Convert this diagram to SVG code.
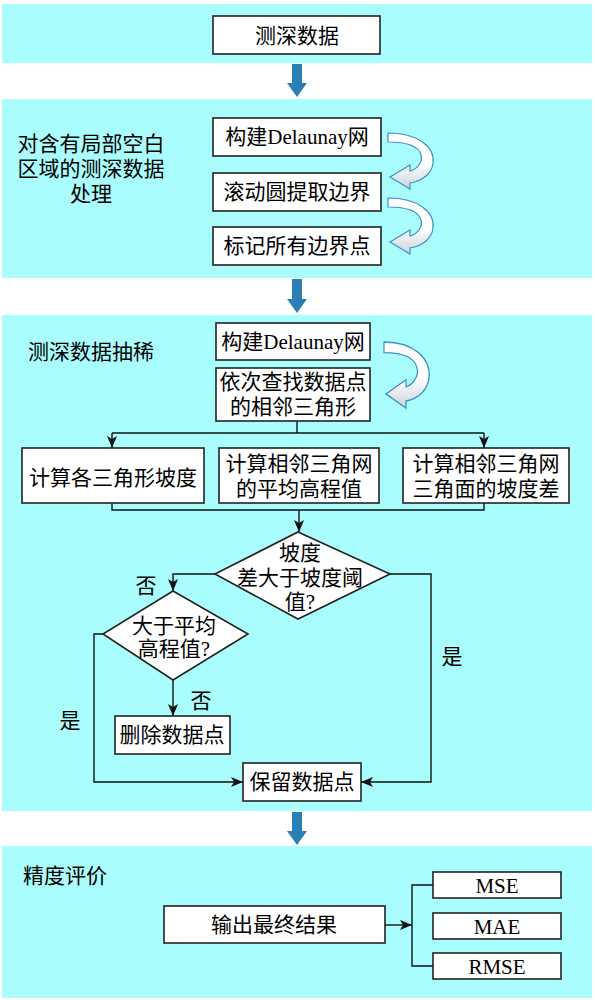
<svg xmlns="http://www.w3.org/2000/svg" xmlns:xlink="http://www.w3.org/1999/xlink" width="595" height="1000" viewBox="0 0 595 1000">
<style>
.panel{fill:#aafdfd}
.box{fill:#fff;stroke:#222;stroke-width:1.6}
.t{font-family:"Liberation Serif","Noto Sans CJK SC",serif;font-size:21px;fill:#000;text-anchor:middle;dominant-baseline:central}
.tl{font-family:"Liberation Serif","Noto Sans CJK SC",serif;font-size:21px;fill:#000;dominant-baseline:central}
.ln{fill:none;stroke:#111;stroke-width:1.4}
.blk{fill:#2a80b4}
.curl{fill:url(#cg);stroke:#3d8fc6;stroke-width:1.2}
</style>
<defs>
<linearGradient id="cg" x1="0" y1="0" x2="0" y2="1">
<stop offset="0" stop-color="#ffffff"/>
<stop offset="0.55" stop-color="#ffffff"/>
<stop offset="1" stop-color="#c9d3da"/>
</linearGradient>
<marker id="ah" viewBox="0 0 12 10" refX="12" refY="5" markerWidth="12" markerHeight="10" markerUnits="userSpaceOnUse" orient="auto">
<path d="M0,0 L12,5 L0,10 L3,5 Z" fill="#111"/>
</marker>
<path id="curlp" d="M0,0 C30,0 47,14 45,30 C44,40 35,48 22,50 L22,56 L2,44 L22,32 L22,38 C30,36 35,28 33,22 C31,14 20,9 0,9 Z"/>
</defs>

<g id="panels">
<rect class="panel" x="2" y="4" width="590" height="59"/>
<rect class="panel" x="2" y="99" width="590" height="179"/>
<rect class="panel" x="2" y="315" width="590" height="496"/>
<rect class="panel" x="2" y="846" width="590" height="152"/>
</g>

<g id="block-arrows">
<path class="blk" d="M292,64 L302,64 L302,83 L307,83 L297,97 L287,83 L292,83 Z"/>
<path class="blk" d="M292,279 L302,279 L302,299 L307,299 L297,313 L287,299 L292,299 Z"/>
<path class="blk" d="M292,812 L302,812 L302,831 L307,831 L297,845 L287,831 L292,831 Z"/>
</g>

<g id="curved-arrows">
<use xlink:href="#curlp" class="curl" transform="translate(388,133)"/>
<use xlink:href="#curlp" class="curl" transform="translate(388,198)"/>
<use xlink:href="#curlp" class="curl" transform="translate(384,342) scale(1,1.18)"/>
</g>

<g id="connectors">
<polyline class="ln" points="297,421 297,433"/>
<polyline class="ln" points="112,433 484,433"/>
<line class="ln" x1="112" y1="433" x2="112" y2="448" marker-end="url(#ah)"/>
<line class="ln" x1="484" y1="433" x2="484" y2="448" marker-end="url(#ah)"/>
<polyline class="ln" points="112,503 112,510 484,510 484,503"/>
<line class="ln" x1="299" y1="510" x2="299" y2="532" marker-end="url(#ah)"/>
<polyline class="ln" points="215,574 173,574 173,591" marker-end="url(#ah)"/>
<polyline class="ln" points="390,574 431,574 431,782 361,782" marker-end="url(#ah)"/>
<line class="ln" x1="173" y1="680" x2="173" y2="716" marker-end="url(#ah)"/>
<polyline class="ln" points="103,634 94,634 94,782 243,782" marker-end="url(#ah)"/>
<line class="ln" x1="385" y1="925" x2="412" y2="925" marker-end="url(#ah)"/>
<polyline class="ln" points="433,885 412,885 412,966 433,966"/>
</g>

<g id="n-data"><rect class="box" x="213" y="16" width="167" height="38"/><text class="t" x="297" y="36">测深数据</text></g>

<g id="n-label2"><text class="t" x="91" y="144">对含有局部空白</text><text class="t" x="91" y="169">区域的测深数据</text><text class="t" x="91" y="194">处理</text></g>
<g id="n-delaunay1"><rect class="box" x="213" y="118" width="168" height="38"/><text class="t" x="297" y="137">构建Delaunay网</text></g>
<g id="n-rolling"><rect class="box" x="213" y="173" width="168" height="38"/><text class="t" x="297" y="192">滚动圆提取边界</text></g>
<g id="n-mark"><rect class="box" x="213" y="227" width="168" height="38"/><text class="t" x="297" y="246">标记所有边界点</text></g>

<g id="n-label3"><text class="tl" x="28" y="352">测深数据抽稀</text></g>
<g id="n-delaunay2"><rect class="box" x="216" y="323" width="154" height="37"/><text class="t" x="293" y="342">构建Delaunay网</text></g>
<g id="n-find"><rect class="box" x="216" y="368" width="154" height="53"/><text class="t" x="293" y="382">依次查找数据点</text><text class="t" x="293" y="407">的相邻三角形</text></g>

<g id="n-slope"><rect class="box" x="22" y="448" width="182" height="55"/><text class="t" x="113" y="478">计算各三角形坡度</text></g>
<g id="n-mean"><rect class="box" x="219" y="448" width="160" height="55"/><text class="t" x="299" y="464">计算相邻三角网</text><text class="t" x="299" y="489">的平均高程值</text></g>
<g id="n-diff"><rect class="box" x="403" y="448" width="166" height="55"/><text class="t" x="486" y="464">计算相邻三角网</text><text class="t" x="486" y="489">三角面的坡度差</text></g>

<g id="n-dec1"><polygon class="box" points="298,532 390,574 298,619 215,574"/><text class="t" x="300" y="553">坡度</text><text class="t" x="300" y="578">差大于坡度阈</text><text class="t" x="300" y="602">值?</text></g>
<g id="n-dec2"><polygon class="box" points="173,591 248,634 173,680 103,634"/><text class="t" x="174" y="626">大于平均</text><text class="t" x="174" y="649">高程值?</text></g>

<g id="labels">
<text class="t" x="146" y="586">否</text>
<text class="t" x="201" y="701">否</text>
<text class="t" x="70" y="721">是</text>
<text class="t" x="452" y="657">是</text>
</g>

<g id="n-delete"><rect class="box" x="115" y="716" width="115" height="38"/><text class="t" x="172" y="735">删除数据点</text></g>
<g id="n-keep"><rect class="box" x="243" y="763" width="118" height="38"/><text class="t" x="302" y="782">保留数据点</text></g>

<g id="n-label4"><text class="tl" x="23" y="876">精度评价</text></g>
<g id="n-output"><rect class="box" x="164" y="906" width="221" height="37"/><text class="t" x="274" y="925">输出最终结果</text></g>
<g id="n-mse"><rect class="box" x="433" y="872" width="128" height="26"/><text class="t" x="497" y="886">MSE</text></g>
<g id="n-mae"><rect class="box" x="433" y="913" width="128" height="26"/><text class="t" x="497" y="927">MAE</text></g>
<g id="n-rmse"><rect class="box" x="433" y="953" width="128" height="26"/><text class="t" x="497" y="967">RMSE</text></g>
</svg>
